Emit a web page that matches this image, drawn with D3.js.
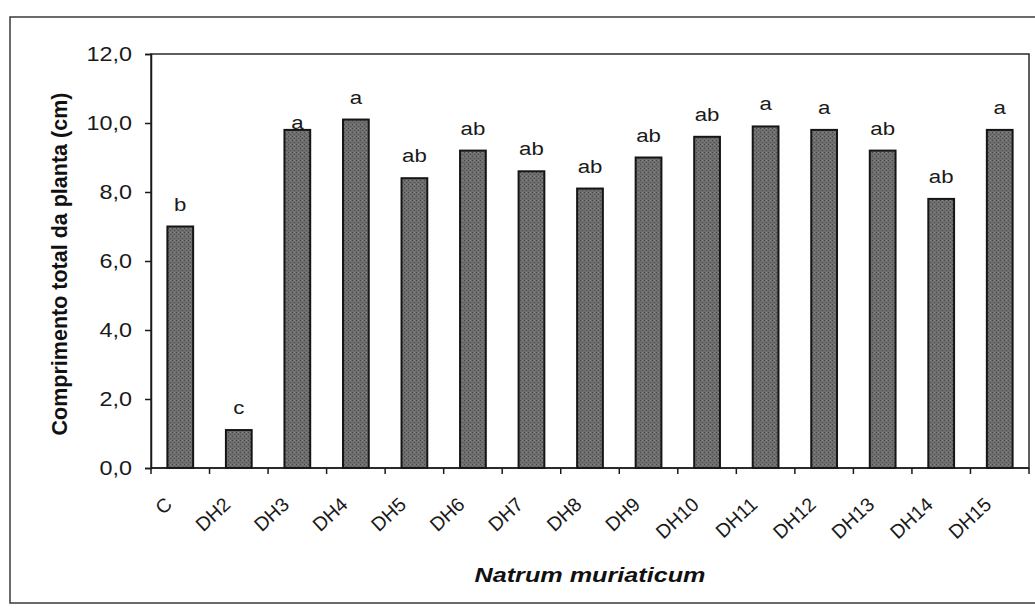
<!DOCTYPE html>
<html>
<head>
<meta charset="utf-8">
<script src="https://cdn.jsdelivr.net/npm/d3@7/dist/d3.min.js"></script>
<style>
  html, body { margin: 0; padding: 0; background: #ffffff; }
  svg { display: block; font-family: "Liberation Sans", Arial, sans-serif; }
</style>
</head>
<body>
<svg id="chart" width="1035" height="610"></svg>
<script>
// ---- data ----
const categories = ["C","DH2","DH3","DH4","DH5","DH6","DH7","DH8","DH9","DH10","DH11","DH12","DH13","DH14","DH15"];
const values     = [7.0, 1.1, 9.8, 10.1, 8.4, 9.2, 8.6, 8.1, 9.0, 9.6, 9.9, 9.8, 9.2, 7.8, 9.8];
const letters    = ["b","c","a","a","ab","ab","ab","ab","ab","ab","a","a","ab","ab","a"];
const yTicks     = [0, 2, 4, 6, 8, 10, 12];
const yTitle = "Comprimento total da planta (cm)";
const xTitle = "Natrum muriaticum";

// ---- layout ----
const svg = d3.select("#chart");
const plot = { left: 151, right: 1029, top: 54, bottom: 468 };
const sx = 1.17; // horizontal stretch of scanned text

const x = d3.scaleBand().domain(categories).range([plot.left, plot.right])
  .paddingInner(0.56).paddingOuter(0.28);
const y = d3.scaleLinear().domain([0, 12]).range([plot.bottom, plot.top]);

// pattern for stippled bars
const defs = svg.append("defs");
const pat = defs.append("pattern").attr("id", "stip").attr("patternUnits", "userSpaceOnUse")
  .attr("width", 4).attr("height", 4);
pat.append("rect").attr("width", 4).attr("height", 4).attr("fill", "#6e6e6e");
pat.append("rect").attr("x", 0).attr("y", 0).attr("width", 1).attr("height", 1).attr("fill", "#464646");
pat.append("rect").attr("x", 2).attr("y", 2).attr("width", 1).attr("height", 1).attr("fill", "#525252");
pat.append("rect").attr("x", 2).attr("y", 0).attr("width", 1).attr("height", 1).attr("fill", "#868686");

// outer frame
svg.append("rect").attr("x", 10).attr("y", 17).attr("width", 1040).attr("height", 586)
  .attr("fill", "none").attr("stroke", "#3a3a3a").attr("stroke-width", 1.5);

// plot area frame
svg.append("rect").attr("x", plot.left).attr("y", plot.top)
  .attr("width", plot.right - plot.left).attr("height", plot.bottom - plot.top)
  .attr("fill", "none").attr("stroke", "#2a2a2a").attr("stroke-width", 1.5);

// bars
svg.append("g").selectAll("rect").data(categories).join("rect")
  .attr("x", d => x(d))
  .attr("y", (d, i) => y(values[i]))
  .attr("width", x.bandwidth())
  .attr("height", (d, i) => y(0) - y(values[i]))
  .attr("fill", "url(#stip)")
  .attr("stroke", "#151515").attr("stroke-width", 2);

// y axis
const yAxis = svg.append("g").attr("transform", `translate(${plot.left},0)`)
  .call(d3.axisLeft(y).tickValues(yTicks).tickSize(6).tickFormat(""));
yAxis.select(".domain").attr("stroke", "#1a1a1a").attr("stroke-width", 1.5);
yAxis.selectAll(".tick line").attr("stroke", "#1a1a1a").attr("stroke-width", 1.5);

svg.append("g").selectAll("g").data(yTicks).join("g")
  .attr("transform", d => `translate(${plot.left - 19},${y(d) + 7}) scale(${sx},1)`)
  .append("text")
  .attr("text-anchor", "end")
  .attr("font-size", 20)
  .attr("fill", "#1a1a1a")
  .text(d => d.toFixed(1).replace(".", ","));

// x axis baseline + ticks at band boundaries
svg.append("line").attr("x1", plot.left).attr("x2", plot.right)
  .attr("y1", y(0)).attr("y2", y(0)).attr("stroke", "#1a1a1a").attr("stroke-width", 1.5);
const boundaries = d3.range(categories.length + 1).map(i => plot.left + i * x.step());
svg.append("g").selectAll("line").data(boundaries).join("line")
  .attr("x1", d => d).attr("x2", d => d)
  .attr("y1", y(0)).attr("y2", y(0) + 6)
  .attr("stroke", "#1a1a1a").attr("stroke-width", 1.5);

// x category labels (rotated)
svg.append("g").selectAll("text").data(categories).join("text")
  .attr("transform", d => `translate(${x(d) + x.bandwidth() / 2 - 7},${y(0) + 38}) rotate(-43)`)
  .attr("text-anchor", "end")
  .attr("font-size", 19.5)
  .attr("fill", "#1a1a1a")
  .text(d => d);

// significance letters
const letterNudge = { DH3: 15 };
svg.append("g").selectAll("g").data(categories).join("g")
  .attr("transform", (d, i) => `translate(${x(d) + x.bandwidth() / 2},${y(values[i]) - 16 + (letterNudge[d] || 0)}) scale(${sx},1)`)
  .append("text")
  .attr("text-anchor", "middle")
  .attr("font-size", 19)
  .attr("fill", "#1a1a1a")
  .text((d, i) => letters[i]);

// y title
svg.append("text")
  .attr("transform", `translate(67,${(plot.top + plot.bottom) / 2 + 3}) rotate(-90)`)
  .attr("text-anchor", "middle")
  .attr("font-size", 21.5)
  .attr("font-weight", "bold")
  .attr("fill", "#111")
  .text(yTitle);

// x title
svg.append("g")
  .attr("transform", `translate(${(plot.left + plot.right) / 2},582) scale(1.2,1)`)
  .append("text")
  .attr("text-anchor", "middle")
  .attr("font-size", 21)
  .attr("font-weight", "bold")
  .attr("font-style", "italic")
  .attr("fill", "#111")
  .text(xTitle);
</script>
</body>
</html>
